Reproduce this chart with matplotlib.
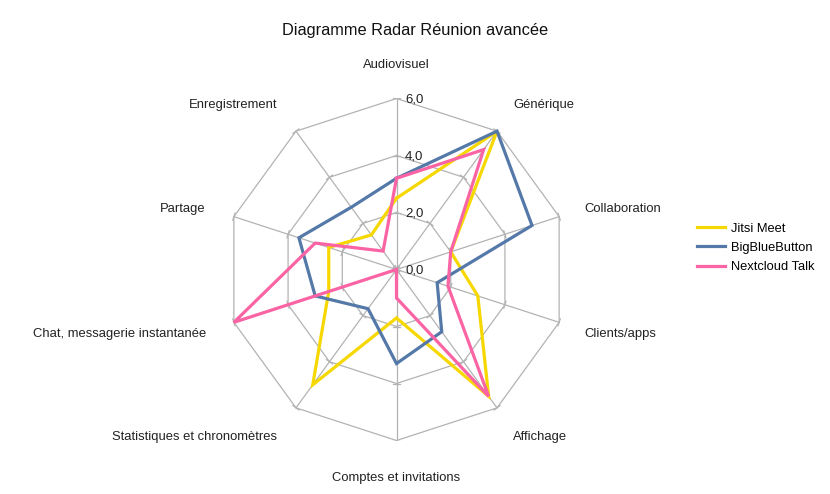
import numpy as np
import matplotlib
matplotlib.use('Agg')
import matplotlib.pyplot as plt

plt.rcParams['font.family'] = ['Liberation Sans', 'DejaVu Sans']

# Data
categories = ['Audiovisuel', 'Générique', 'Collaboration', 'Clients/apps', 'Affichage',
              'Comptes et invitations', 'Statistiques et chronomètres',
              'Chat, messagerie instantanée', 'Partage', 'Enregistrement']
jitsi = [2.5, 6.0, 2.0, 3.0, 5.5, 1.7, 5.0, 2.5, 2.5, 1.5]
bbb = [3.2, 6.0, 5.0, 1.5, 2.7, 3.3, 1.7, 3.0, 3.6, 2.7]
nextcloud = [3.2, 5.2, 2.0, 1.9, 5.5, 1.0, 0.0, 6.0, 3.0, 0.8]
series_names = ['Jitsi Meet', 'BigBlueButton', 'Nextcloud Talk']
ticks = [0, 2, 4, 6]
tick_labels = ['0,0', '2,0', '4,0', '6,0']

colors = ['#f6d800', '#5479a8', '#fa64a4']
grid_color = '#b3b3b3'

W, H = 830, 494
fig = plt.figure(figsize=(W / 100, H / 100), dpi=100)
cx, cy, R = 396.5, 269.5, 171
ax = fig.add_axes([(cx - R) / W, (H - cy - R) / H, 2 * R / W, 2 * R / H])
rmax = ticks[-1]
ax.set_xlim(-rmax, rmax)
ax.set_ylim(-rmax, rmax)
ax.axis('off')

n = len(categories)
angles = np.pi / 2 - 2 * np.pi * np.arange(n) / n
ca, sa = np.cos(angles), np.sin(angles)

# polygon grid
for t in ticks[1:]:
    ax.plot(np.append(t * ca, t * ca[0]), np.append(t * sa, t * sa[0]),
            color=grid_color, lw=0.9, zorder=1)
for i in range(n):
    ax.plot([0, rmax * ca[i]], [0, rmax * sa[i]], color=grid_color, lw=0.9, zorder=1)
    # small ticks across each spoke
    for t in ticks:
        px, py = -sa[i], ca[i]
        h = 0.13
        ax.plot([t * ca[i] - h * px, t * ca[i] + h * px],
                [t * sa[i] - h * py, t * sa[i] + h * py],
                color=grid_color, lw=0.9, zorder=1)

# value labels on the vertical axis
for t, lab in zip(ticks, tick_labels):
    ax.text(0.3, t - 0.02, lab, ha='left', va='center', fontsize=9.5, color='#222222')

# series
for vals, name, c in zip([jitsi, bbb, nextcloud], series_names, colors):
    v = np.array(vals)
    x = np.append(v * ca, v[0] * ca[0])
    y = np.append(v * sa, v[0] * sa[0])
    ax.plot(x, y, color=c, lw=2.3, label=name, zorder=3, solid_joinstyle='miter')

# category labels
for i, lab in enumerate(categories):
    r_lab = 7.0 + 0.25 * abs(sa[i])
    x, y = r_lab * ca[i], r_lab * sa[i] - 0.06
    if abs(ca[i]) < 1e-6:
        ha = 'center'
    elif ca[i] > 0:
        ha = 'left'
        x -= 0.13
    else:
        ha = 'right'
        x += 0.04
    ax.text(x, y, lab, ha=ha, va='center', fontsize=9.4, color='#222222', clip_on=False)

fig.text(415 / W, 1 - 30.5 / H, 'Diagramme Radar Réunion avancée', ha='center', va='center',
         fontsize=11.8, color='#111111')

fig.legend(*ax.get_legend_handles_labels(), loc='center left',
           bbox_to_anchor=(697 / W, 1 - 248 / H), frameon=False, fontsize=9.3,
           borderpad=0, borderaxespad=0, handlelength=2.2, handletextpad=0.45,
           labelspacing=0.55)

fig.savefig('out.png', dpi=100)
